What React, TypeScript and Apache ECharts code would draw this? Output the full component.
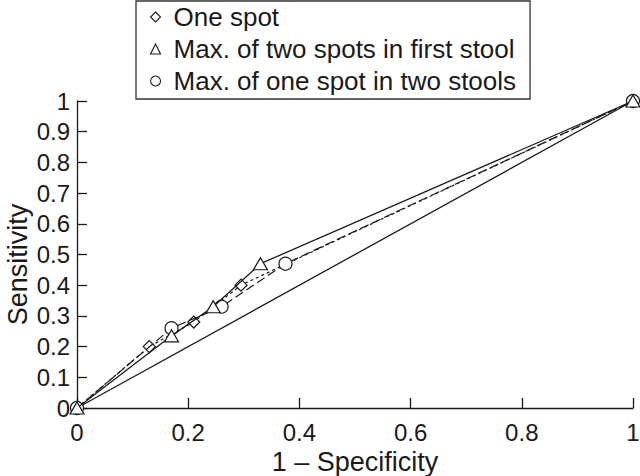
import React, { useEffect, useRef } from "react";
import * as echarts from "echarts";

const FONT = "'Liberation Sans', Arial, Helvetica, sans-serif";
const INK = "#1a1a1a";

// [1 - specificity, sensitivity]
const oneSpot = [[0, 0], [0.13, 0.2], [0.21, 0.28], [0.295, 0.4], [1, 1]];
const twoSpotsFirstStool = [[0, 0], [0.17, 0.235], [0.245, 0.33], [0.33, 0.47], [1, 1]];
const oneSpotTwoStools = [[0, 0], [0.17, 0.26], [0.26, 0.33], [0.375, 0.47], [1, 1]];
const chanceLine = [[0, 0], [1, 1]];

const seriesNames = [
  "One spot",
  "Max. of two spots in first stool",
  "Max. of one spot in two stools",
];
const legendIcons = ["diamond", "triangle", "circle"];

export default function App() {
  const ref = useRef<HTMLDivElement>(null);
  useEffect(() => {
    if (!ref.current) return;
    const chart = echarts.init(ref.current, null, { renderer: "svg" });
    const markerStyle = { color: "#fff", borderColor: INK, borderWidth: 1.2 };
    chart.setOption({
      animation: false,
      backgroundColor: "#fff",
      textStyle: { fontFamily: FONT, color: INK },
      grid: {
        left: 77,
        right: 7,
        top: 101,
        bottom: 68,
        containLabel: false,
        outerBoundsMode: "none",
      },
      legend: {
        orient: "vertical",
        left: 136,
        top: 1,
        padding: [3, 14, 5, 14],
        itemGap: 6,
        itemWidth: 10,
        itemHeight: 10,
        borderColor: "#333",
        borderWidth: 1.3,
        backgroundColor: "#fff",
        itemStyle: { color: "#fff", borderColor: INK, borderWidth: 1.1 },
        textStyle: { fontSize: 26, fontFamily: FONT, color: INK, padding: [0, 0, 0, 8] },
        data: seriesNames.map((n, i) => ({ name: n, icon: legendIcons[i] })),
      },
      xAxis: {
        type: "value",
        min: 0,
        max: 1,
        interval: 0.2,
        name: "1 \u2013 Specificity",
        nameLocation: "middle",
        nameGap: 35,
        nameTextStyle: { fontSize: 27, fontFamily: FONT, color: INK },
        axisLine: { lineStyle: { color: INK, width: 1.3 } },
        axisTick: { inside: true, length: 10, lineStyle: { color: INK, width: 1.3 } },
        axisLabel: { fontSize: 24, fontFamily: FONT, color: INK, margin: 12 },
        splitLine: { show: false },
      },
      yAxis: {
        type: "value",
        min: 0,
        max: 1,
        interval: 0.1,
        name: "Sensitivity",
        nameLocation: "middle",
        nameGap: 46,
        nameMoveOverlap: false,
        nameRotate: 90,
        nameTextStyle: { fontSize: 27, fontFamily: FONT, color: INK, padding: [0, 20, 0, 0] },
        axisLine: { lineStyle: { color: INK, width: 1.3 } },
        axisTick: { inside: true, length: 10, lineStyle: { color: INK, width: 1.3 } },
        axisLabel: { fontSize: 24, fontFamily: FONT, color: INK, margin: 7 },
        splitLine: { show: false },
      },
      series: [
        {
          name: "chance",
          type: "line",
          data: chanceLine,
          symbol: "none",
          lineStyle: { color: INK, width: 1.3, type: "solid" },
          silent: true,
          z: 1,
        },
        {
          name: seriesNames[0],
          type: "line",
          data: oneSpot,
          symbol: "diamond",
          symbolSize: 12,
          showAllSymbol: true,
          itemStyle: markerStyle,
          lineStyle: { color: INK, width: 1.2, type: [3, 3] },
          z: 2,
        },
        {
          name: seriesNames[2],
          type: "line",
          data: oneSpotTwoStools,
          symbol: "circle",
          symbolSize: 13,
          showAllSymbol: true,
          itemStyle: markerStyle,
          lineStyle: { color: INK, width: 1.2, type: [9, 4] },
          z: 3,
        },
        {
          name: seriesNames[1],
          type: "line",
          data: twoSpotsFirstStool,
          symbol: "triangle",
          symbolSize: [14, 12],
          showAllSymbol: true,
          itemStyle: markerStyle,
          lineStyle: { color: INK, width: 1.3, type: "solid" },
          z: 4,
        },
      ],
    });
    return () => chart.dispose();
  }, []);
  return <div ref={ref} style={{ width: 640, height: 476, position: "absolute", left: 0, top: 0 }} />;
}
